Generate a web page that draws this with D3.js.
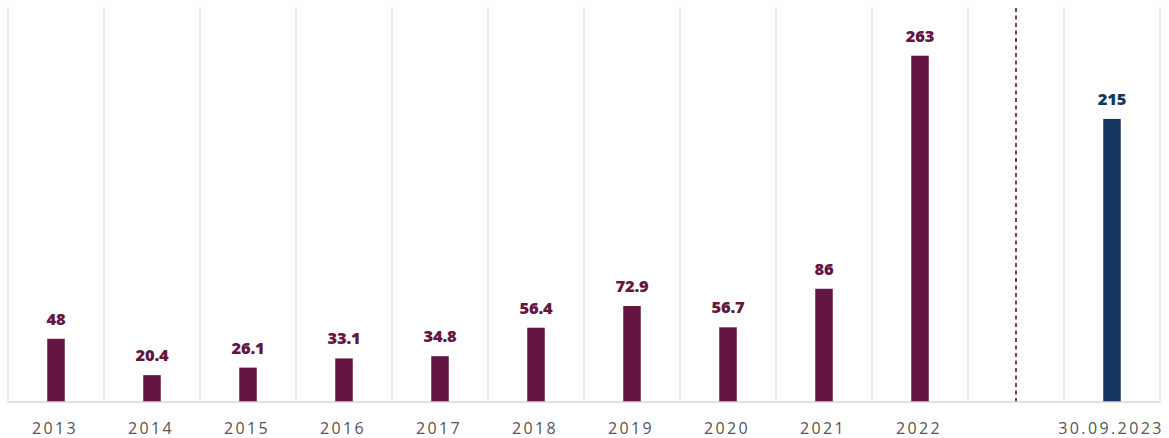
<!DOCTYPE html>
<html>
<head>
<meta charset="utf-8">
<script src="https://cdn.jsdelivr.net/npm/d3@7"></script>
<style>
  html, body { margin: 0; padding: 0; background: #fff; }
  svg { display: block; }
</style>
</head>
<body>
<svg id="chart" width="1169" height="438"></svg>
<script>
// Yearly values; the gap slot separates annual figures from the interim date
const categories = ["2013", "2014", "2015", "2016", "2017", "2018", "2019", "2020", "2021", "2022", "gap", "30.09.2023"];
const values = [48, 20.4, 26.1, 33.1, 34.8, 56.4, 72.9, 56.7, 86, 263, null, 215];
const tickLabels = ["2013", "2014", "2015", "2016", "2017", "2018", "2019", "2020", "2021", "2022", "", "30.09.2023"];
const valueLabels = ["48", "20.4", "26.1", "33.1", "34.8", "56.4", "72.9", "56.7", "86", "263", "", "215"];

const colorAnnual = "#641541";
const colorInterim = "#133760";

(function () {
  const svg = d3.select("#chart");
  const plotLeft = 8, plotRight = 1160, plotTop = 7, plotBottom = 402;

  const x = d3.scaleBand().domain(categories).range([plotLeft, plotRight]).paddingInner(0).paddingOuter(0);
  const y = d3.scaleLinear().domain([0, 300]).range([plotBottom, plotTop]);
  const barW = 17.5;

  // Vertical band separators
  const edges = categories.map(c => x(c)).concat([plotRight]);
  svg.append("g").selectAll("line").data(edges).join("line")
    .attr("x1", d => d).attr("x2", d => d)
    .attr("y1", plotTop).attr("y2", plotBottom)
    .attr("stroke", "#dedede").attr("stroke-width", 1.3);

  // Dashed divider in the gap slot
  const gx = x("gap") + x.bandwidth() / 2;
  svg.append("line")
    .attr("x1", gx).attr("x2", gx).attr("y1", plotTop + 1).attr("y2", plotBottom)
    .attr("stroke", "#76294f").attr("stroke-width", 1.8).attr("stroke-dasharray", "4,3.5");

  const data = categories.map((c, i) => ({ c, v: values[i], label: valueLabels[i], tick: tickLabels[i] }));
  const bars = data.filter(d => d.v != null);

  svg.append("g").selectAll("rect").data(bars).join("rect")
    .attr("x", d => x(d.c) + x.bandwidth() / 2 - barW / 2)
    .attr("width", barW)
    .attr("y", d => y(d.v))
    .attr("height", d => y(0) - y(d.v))
    .attr("fill", d => d.c === "30.09.2023" ? colorInterim : colorAnnual);

  // Baseline
  svg.append("line")
    .attr("x1", plotLeft).attr("x2", plotRight).attr("y1", plotBottom).attr("y2", plotBottom)
    .attr("stroke", "rgba(215,215,215,0.75)").attr("stroke-width", 2);

  // Value labels
  svg.append("g").selectAll("text").data(bars).join("text")
    .attr("x", d => x(d.c) + x.bandwidth() / 2)
    .attr("y", d => y(d.v) - 14)
    .attr("text-anchor", "middle")
    .attr("font-family", "'Open Sans', sans-serif")
    .attr("font-weight", 800)
    .attr("font-size", 16.5)
    .attr("letter-spacing", "-0.2px")
    .attr("fill", d => d.c === "30.09.2023" ? colorInterim : colorAnnual)
    .text(d => d.label);

  // Category labels
  svg.append("g").selectAll("text").data(data).join("text")
    .attr("x", d => x(d.c) + x.bandwidth() / 2 - 1)
    .attr("y", 434)
    .attr("text-anchor", "middle")
    .attr("font-family", "'Open Sans', sans-serif")
    .attr("font-size", 16)
    .attr("letter-spacing", "2.4px")
    .attr("fill", "#555")
    .text(d => d.tick);
})();
</script>
</body>
</html>
